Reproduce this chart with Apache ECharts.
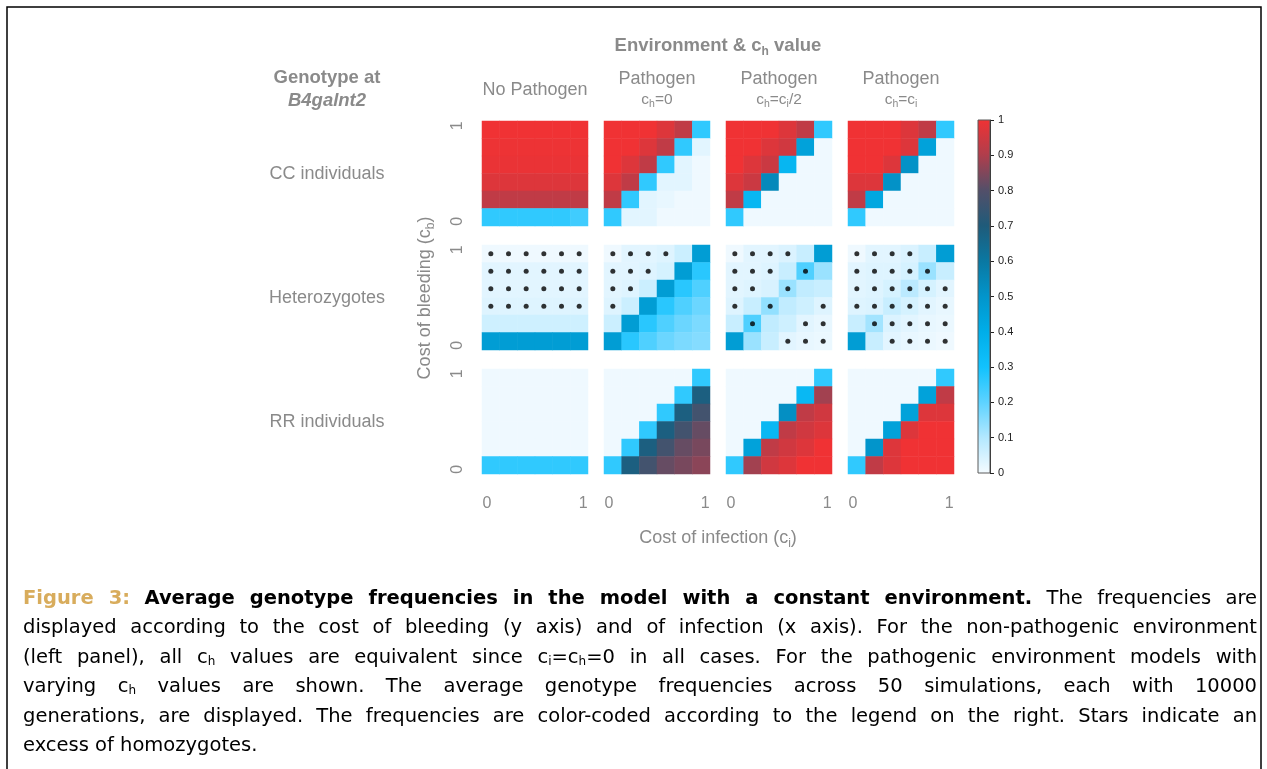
<!DOCTYPE html>
<html>
<head>
<meta charset="utf-8">
<title>Average genotype frequencies</title>
<script src="https://cdn.jsdelivr.net/npm/echarts@6/dist/echarts.min.js"></script>
<style>
  html, body { margin: 0; padding: 0; background: #fff; }
  #wrap { position: relative; width: 1267px; height: 769px; overflow: hidden; }
  #chart { position: absolute; left: 0; top: 0; width: 1267px; height: 769px; }
  #caption {
    position: absolute; left: 23px; top: 583px; width: 1234px;
    font-family: 'DejaVu Sans', 'Liberation Sans', sans-serif; font-size: 19.5px;
    line-height: 29.4px; color: #000;
  }
  #caption .ln { text-align: justify; text-align-last: justify; height: 29.4px; }
  #caption .ln.last { text-align-last: left; }
  #caption .fig { color: #d8ac5c; font-weight: bold; }
  #caption b { font-weight: bold; }
  #caption sub { font-size: 12px; vertical-align: -2px; line-height: 0; }
</style>
</head>
<body>
<div id="wrap">
  <div id="chart"></div>
  <div id="caption">
    <div class="ln"><span class="fig">Figure 3:</span> <b>Average genotype frequencies in the model with a constant environment.</b> The frequencies are</div>
    <div class="ln">displayed according to the cost of bleeding (y axis) and of infection (x axis). For the non-pathogenic environment</div>
    <div class="ln">(left panel), all c<sub>h</sub> values are equivalent since c<sub>i</sub>=c<sub>h</sub>=0 in all cases. For the pathogenic environment models with</div>
    <div class="ln">varying c<sub>h</sub> values are shown. The average genotype frequencies across 50 simulations, each with 10000</div>
    <div class="ln">generations, are displayed. The frequencies are color-coded according to the legend on the right. Stars indicate an</div>
    <div class="ln last">excess of homozygotes.</div>
  </div>
</div>
<script>
// Cost levels along both axes (cost of infection c_i, cost of bleeding c_b)
const costLevels = ['0', '0.2', '0.4', '0.6', '0.8', '1'];

// Genotype frequency matrices: rows from c_b = 1 (top) down to c_b = 0,
// columns from c_i = 0 (left) to c_i = 1.
const ccNoPath = [
  [1.00, 1.00, 1.00, 1.00, 1.00, 1.00],
  [0.995, 0.995, 0.995, 0.995, 0.995, 0.995],
  [0.99, 0.99, 0.99, 0.99, 0.99, 0.99],
  [0.97, 0.97, 0.97, 0.97, 0.97, 0.97],
  [0.925, 0.925, 0.925, 0.925, 0.925, 0.925],
  [0.26, 0.26, 0.26, 0.26, 0.26, 0.24]
];
const ccCh0 = [
  [1.00, 1.00, 1.00, 0.97, 0.925, 0.26],
  [1.00, 1.00, 0.97, 0.925, 0.26, 0.03],
  [1.00, 0.97, 0.925, 0.26, 0.03, 0.01],
  [0.97, 0.925, 0.26, 0.03, 0.03, 0.01],
  [0.925, 0.26, 0.03, 0.02, 0.01, 0.01],
  [0.26, 0.03, 0.03, 0.01, 0.01, 0.01]
];
const ccChHalf = [
  [1.00, 1.00, 1.00, 0.97, 0.925, 0.26],
  [1.00, 1.00, 0.97, 0.95, 0.45, 0.01],
  [1.00, 0.97, 0.94, 0.36, 0.01, 0.01],
  [0.97, 0.94, 0.54, 0.01, 0.01, 0.01],
  [0.925, 0.355, 0.01, 0.01, 0.01, 0.01],
  [0.26, 0.01, 0.01, 0.01, 0.01, 0.01]
];
const ccChFull = [
  [1.00, 1.00, 1.00, 0.97, 0.925, 0.26],
  [1.00, 1.00, 1.00, 0.97, 0.45, 0.01],
  [1.00, 1.00, 0.97, 0.51, 0.01, 0.01],
  [0.97, 0.97, 0.51, 0.01, 0.01, 0.01],
  [0.925, 0.43, 0.01, 0.01, 0.01, 0.01],
  [0.26, 0.01, 0.01, 0.01, 0.01, 0.01]
];

const hetNoPath = [
  [0.01, 0.01, 0.01, 0.01, 0.01, 0.01],
  [0.03, 0.03, 0.03, 0.03, 0.03, 0.03],
  [0.03, 0.03, 0.03, 0.03, 0.03, 0.03],
  [0.035, 0.035, 0.035, 0.035, 0.035, 0.035],
  [0.06, 0.06, 0.06, 0.06, 0.06, 0.06],
  [0.47, 0.47, 0.47, 0.47, 0.47, 0.47]
];
const hetCh0 = [
  [0.01, 0.03, 0.03, 0.035, 0.065, 0.47],
  [0.03, 0.03, 0.035, 0.05, 0.47, 0.27],
  [0.03, 0.035, 0.065, 0.47, 0.27, 0.22],
  [0.035, 0.065, 0.47, 0.27, 0.22, 0.185],
  [0.065, 0.47, 0.27, 0.22, 0.185, 0.165],
  [0.47, 0.27, 0.22, 0.185, 0.165, 0.155]
];
const hetChHalf = [
  [0.01, 0.03, 0.03, 0.04, 0.07, 0.47],
  [0.03, 0.03, 0.035, 0.07, 0.22, 0.13],
  [0.03, 0.035, 0.045, 0.13, 0.08, 0.07],
  [0.035, 0.07, 0.14, 0.08, 0.06, 0.035],
  [0.07, 0.22, 0.08, 0.06, 0.03, 0.02],
  [0.47, 0.13, 0.07, 0.03, 0.02, 0.015]
];
const hetChFull = [
  [0.01, 0.03, 0.03, 0.04, 0.07, 0.47],
  [0.03, 0.035, 0.035, 0.05, 0.13, 0.07],
  [0.03, 0.035, 0.05, 0.09, 0.05, 0.03],
  [0.035, 0.04, 0.07, 0.05, 0.03, 0.02],
  [0.07, 0.12, 0.04, 0.03, 0.02, 0.015],
  [0.47, 0.07, 0.03, 0.02, 0.015, 0.01]
];

const rrNoPath = [
  [0.01, 0.01, 0.01, 0.01, 0.01, 0.01],
  [0.01, 0.01, 0.01, 0.01, 0.01, 0.01],
  [0.01, 0.01, 0.01, 0.01, 0.01, 0.01],
  [0.01, 0.01, 0.01, 0.01, 0.01, 0.01],
  [0.01, 0.01, 0.01, 0.01, 0.01, 0.01],
  [0.26, 0.26, 0.26, 0.26, 0.26, 0.26]
];
const rrCh0 = [
  [0.01, 0.01, 0.01, 0.01, 0.01, 0.26],
  [0.01, 0.01, 0.01, 0.01, 0.26, 0.685],
  [0.01, 0.01, 0.01, 0.26, 0.685, 0.77],
  [0.01, 0.01, 0.26, 0.685, 0.77, 0.82],
  [0.01, 0.26, 0.685, 0.77, 0.82, 0.84],
  [0.26, 0.685, 0.77, 0.82, 0.84, 0.86]
];
const rrChHalf = [
  [0.01, 0.01, 0.01, 0.01, 0.01, 0.26],
  [0.01, 0.01, 0.01, 0.01, 0.35, 0.885],
  [0.01, 0.01, 0.01, 0.52, 0.925, 0.95],
  [0.01, 0.01, 0.35, 0.925, 0.95, 0.97],
  [0.01, 0.45, 0.925, 0.95, 0.97, 1.00],
  [0.26, 0.885, 0.95, 0.97, 1.00, 1.00]
];
const rrChFull = [
  [0.01, 0.01, 0.01, 0.01, 0.01, 0.26],
  [0.01, 0.01, 0.01, 0.01, 0.45, 0.925],
  [0.01, 0.01, 0.01, 0.45, 0.97, 0.97],
  [0.01, 0.01, 0.45, 0.97, 1.00, 1.00],
  [0.01, 0.50, 0.97, 1.00, 1.00, 1.00],
  [0.26, 0.925, 0.97, 1.00, 1.00, 1.00]
];

// Excess of homozygotes (1 = star), heterozygote panels, same orientation
const starsNoPath = [
  [1, 1, 1, 1, 1, 1],
  [1, 1, 1, 1, 1, 1],
  [1, 1, 1, 1, 1, 1],
  [1, 1, 1, 1, 1, 1],
  [0, 0, 0, 0, 0, 0],
  [0, 0, 0, 0, 0, 0]
];
const starsCh0 = [
  [1, 1, 1, 1, 0, 0],
  [1, 1, 1, 0, 0, 0],
  [1, 1, 0, 0, 0, 0],
  [1, 0, 0, 0, 0, 0],
  [0, 0, 0, 0, 0, 0],
  [0, 0, 0, 0, 0, 0]
];
const starsChHalf = [
  [1, 1, 1, 1, 0, 0],
  [1, 1, 1, 0, 1, 0],
  [1, 1, 0, 1, 0, 0],
  [1, 0, 1, 0, 0, 1],
  [0, 1, 0, 0, 1, 1],
  [0, 0, 0, 1, 1, 1]
];
const starsChFull = [
  [1, 1, 1, 1, 0, 0],
  [1, 1, 1, 1, 1, 0],
  [1, 1, 1, 1, 1, 1],
  [1, 1, 1, 1, 1, 1],
  [0, 1, 1, 1, 1, 1],
  [0, 0, 1, 1, 1, 1]
];

// Colour scale ticks
const scaleTicks = [0, 0.1, 0.2, 0.3, 0.4, 0.5, 0.6, 0.7, 0.8, 0.9, 1];
const scaleColors = ['#f5fbff', '#b4e8ff', '#5ed3ff', '#12c2fd', '#00aee9', '#0295cb',
                     '#0a78a2', '#1f5b7a', '#534f69', '#b03e4c', '#f03234'];

const panelRows = [
  [ccNoPath, ccCh0, ccChHalf, ccChFull],
  [hetNoPath, hetCh0, hetChHalf, hetChFull],
  [rrNoPath, rrCh0, rrChHalf, rrChFull]
];
const starPanels = [starsNoPath, starsCh0, starsChHalf, starsChFull];

// ---- layout ----
const FAM = "'Liberation Sans', Arial, Helvetica, sans-serif";
const GREY = '#8a8a8a';
const colLeft = [482, 604, 726, 848];
const rowTop = [121, 245, 369];
const PW = 106, PH = 105;
const CB = { x: 978, y: 120, w: 12, h: 353 };

const grids = [], xAxes = [], yAxes = [], series = [];

function toCells(m) {
  const out = [];
  m.forEach((row, r) => row.forEach((v, c) => out.push([c, m.length - 1 - r, v])));
  return out;
}
function toStars(m) {
  const out = [];
  m.forEach((row, r) => row.forEach((s, c) => { if (s) out.push([c, m.length - 1 - r]); }));
  return out;
}

// end labels sit a little outside the first / last cell centres
const tickFont = { color: GREY, fontSize: 16, fontFamily: FAM };
const xTickRich = { lo: Object.assign({ padding: [0, 8, 0, 0] }, tickFont),
                    hi: Object.assign({ padding: [0, 0, 0, 8] }, tickFont) };
const yTickRich = { lo: Object.assign({ padding: [0, 8, 0, 0] }, tickFont),
                    hi: Object.assign({ padding: [0, 0, 0, 8] }, tickFont) };
const endLabel = (v, i) => (i === 0 ? '{lo|' + v + '}' : '{hi|' + v + '}');

panelRows.forEach((row, r) => {
  row.forEach((mat, c) => {
    const gi = grids.length;
    grids.push({ left: colLeft[c], top: rowTop[r], width: PW, height: PH });
    xAxes.push({
      gridIndex: gi, type: 'category', data: costLevels,
      axisLine: { show: false }, axisTick: { show: false }, splitLine: { show: false },
      axisLabel: { show: r === 2, interval: 4, margin: 22, formatter: endLabel,
                   rich: xTickRich, color: GREY, fontSize: 16, fontFamily: FAM }
    });
    yAxes.push({
      gridIndex: gi, type: 'category', data: costLevels,
      axisLine: { show: false }, axisTick: { show: false }, splitLine: { show: false },
      axisLabel: { show: c === 0, interval: 4, rotate: 90, margin: 16, formatter: endLabel,
                   rich: yTickRich, color: GREY, fontSize: 16, fontFamily: FAM }
    });
    series.push({
      type: 'heatmap', xAxisIndex: gi, yAxisIndex: gi,
      data: toCells(mat), itemStyle: { borderWidth: 0 },
      emphasis: { disabled: true }, progressive: 0, animation: false
    });
  });
});

starPanels.forEach((m, c) => {
  const gi = 4 + c;
  series.push({
    type: 'scatter', xAxisIndex: gi, yAxisIndex: gi, data: toStars(m),
    symbol: 'circle', symbolSize: 5, itemStyle: { color: '#000' },
    z: 5, silent: true, animation: false
  });
});

// colour bar axis
const cbi = grids.length;
grids.push({ left: CB.x, top: CB.y, width: CB.w, height: CB.h });
xAxes.push({ gridIndex: cbi, type: 'category', data: [''], show: false });
yAxes.push({
  gridIndex: cbi, type: 'value', min: 0, max: 1, interval: 0.1, position: 'right',
  axisLine: { show: true, lineStyle: { color: '#222', width: 1 } },
  axisTick: { show: true, length: 4, lineStyle: { color: '#222' } },
  splitLine: { show: false },
  axisLabel: { color: '#222', fontSize: 11, fontFamily: FAM, margin: 8,
               formatter: v => String(Math.round(v * 10) / 10) }
});
series.push({ type: 'scatter', xAxisIndex: cbi, yAxisIndex: cbi, data: [], silent: true });

function txt(x, y, text, opts) {
  return {
    type: 'text', x: x, y: y, silent: true,
    style: Object.assign({ text: text, fill: GREY, font: '18px ' + FAM,
                           textAlign: 'center', textVerticalAlign: 'middle' }, opts || {})
  };
}
function richTxt(x, y, text, rich, rotation) {
  const t = txt(x, y, text, { rich: rich });
  if (rotation) t.rotation = rotation;
  return t;
}

const bold = {
  b: { fontSize: 18.5, fontWeight: 'bold', lineHeight: 24, fontFamily: FAM, fill: GREY },
  bs: { fontSize: 12, fontWeight: 'bold', lineHeight: 12, verticalAlign: 'bottom', fontFamily: FAM, fill: GREY }
};
const reg = {
  n: { fontSize: 18, lineHeight: 24, fontFamily: FAM, fill: GREY },
  s: { fontSize: 12, lineHeight: 12, verticalAlign: 'bottom', fontFamily: FAM, fill: GREY },
  m: { fontSize: 15.5, lineHeight: 20, fontFamily: FAM, fill: GREY },
  ms: { fontSize: 10.5, lineHeight: 10, verticalAlign: 'bottom', fontFamily: FAM, fill: GREY }
};

const colCenters = colLeft.map(l => l + PW / 2);

const graphics = [
  // frame around the figure
  { type: 'rect', shape: { x: 7, y: 7, width: 1254, height: 800 },
    style: { fill: 'none', stroke: '#000', lineWidth: 1.5 }, silent: true },
  richTxt(718, 46, '{b|Environment & c}{bs|h}{b| value}', bold),
  txt(327, 78, 'Genotype at', { font: 'bold 18.5px ' + FAM }),
  txt(327, 101, 'B4galnt2', { font: 'italic bold 18.5px ' + FAM }),
  txt(colCenters[0], 90, 'No Pathogen'),
  txt(colCenters[1], 79, 'Pathogen'),
  txt(colCenters[2], 79, 'Pathogen'),
  txt(colCenters[3], 79, 'Pathogen'),
  richTxt(colCenters[1], 100, '{m|c}{ms|h}{m|=0}', reg),
  richTxt(colCenters[2], 100, '{m|c}{ms|h}{m|=c}{ms|i}{m|/2}', reg),
  richTxt(colCenters[3], 100, '{m|c}{ms|h}{m|=c}{ms|i}', reg),
  txt(327, 174, 'CC individuals'),
  txt(327, 298, 'Heterozygotes'),
  txt(327, 422, 'RR individuals'),
  richTxt(425, 298, '{n|Cost of bleeding (c}{s|b}{n|)}', reg, Math.PI / 2),
  richTxt(718, 538, '{n|Cost of infection (c}{s|i}{n|)}', reg),
  // colour bar
  { type: 'rect', z: 10, silent: true,
    shape: { x: CB.x, y: CB.y, width: CB.w, height: CB.h },
    style: {
      fill: new echarts.graphic.LinearGradient(0, 1, 0, 0,
        scaleTicks.map((t, i) => ({ offset: t, color: scaleColors[i] }))),
      stroke: '#5a5a5a', lineWidth: 1
    } }
];

const chart = echarts.init(document.getElementById('chart'), null, { renderer: 'canvas' });
chart.setOption({
  animation: false,
  backgroundColor: '#fff',
  grid: grids,
  xAxis: xAxes,
  yAxis: yAxes,
  visualMap: {
    type: 'continuous', show: false, min: 0, max: 1,
    seriesIndex: series.map((s, i) => i).filter(i => series[i].type === 'heatmap'),
    inRange: { color: scaleColors }
  },
  series: series,
  graphic: graphics
});

// keep every caption line on a single justified row
document.querySelectorAll('#caption .ln').forEach(el => {
  el.style.height = 'auto';
  let size = 19.5;
  while (el.getBoundingClientRect().height > 31 && size > 14) {
    size -= 0.25;
    el.style.fontSize = size + 'px';
  }
  el.style.height = '29.4px';
});
</script>
</body>
</html>
